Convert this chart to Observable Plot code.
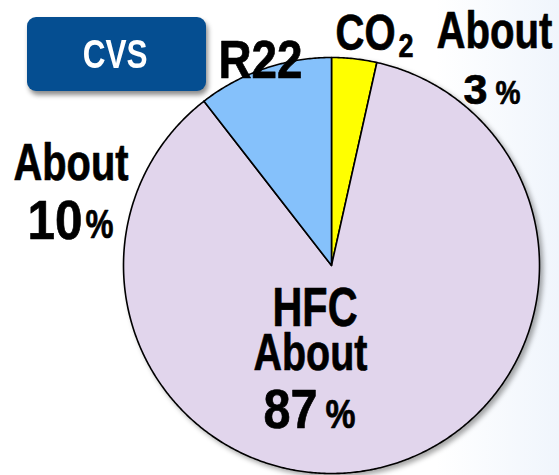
<!DOCTYPE html>
<html>
<head>
<meta charset="utf-8">
<script src="https://cdn.jsdelivr.net/npm/d3@7"></script>
<script src="https://cdn.jsdelivr.net/npm/@observablehq/plot@0.6"></script>
<style>
  html, body { margin: 0; padding: 0; background: #fff; }
  #wrap {
    position: relative; width: 559px; height: 475px; overflow: hidden;
    background: linear-gradient(to right, #ffffff 0%, #ffffff 78%, #f0f5fc 100%);
  }
  #badge {
    position: absolute; left: 27px; top: 17px; width: 179px; height: 74px;
    background: #054e91; border-radius: 9px;
    box-shadow: 2px 4px 5px rgba(0,0,0,0.45);
    color: #fff; font-family: "Liberation Sans", Arial, sans-serif;
    font-weight: bold; font-size: 41px; display: flex; align-items: center; justify-content: center;
    z-index: 2;
  }
  #badge span { display: inline-block; transform: scaleX(0.77); margin-left: -2px; }
  #chart { position: absolute; left: 0; top: 0; }
</style>
</head>
<body>
<div id="wrap">
  <div id="chart"></div>
  <div id="badge"><span>CVS</span></div>
</div>
<script>
// Data (clockwise from 12 o'clock)
const categories = ["CO2", "HFC", "R22"];
const shares = [3.5, 86.0, 10.5];
const colors = ["#ffff00", "#e1d5ec", "#85c1fb"];
const labelPercents = ["3", "87", "10"];

// geometry helpers (pixel -> data units where pie radius = 1)
const CX = 331, CY = 265, R = 208;
const ux = px => (px - CX) / R;
const uy = py => (CY - py) / R;

const arcs = d3.pie().sort(null).value(d => d.v)(categories.map((c, i) => ({c, v: shares[i]})));
const pts = [];
arcs.forEach(a => {
  const c = a.data.c;
  pts.push({c, x: 0, y: 0});
  const n = Math.max(2, Math.ceil((a.endAngle - a.startAngle) / (Math.PI / 360)));
  for (let k = 0; k <= n; k++) {
    const t = a.startAngle + (a.endAngle - a.startAngle) * k / n;
    pts.push({c, x: Math.sin(t), y: Math.cos(t)});
  }
  pts.push({c, x: 0, y: 0});
});

const FONT = "Liberation Sans, Arial, sans-serif";
// text, left x, cap-centre y, font size, target width (px)
const labels = [
  {t: "CO", x: 335, y: 31, s: 50, w: 60},
  {t: "2", x: 398, y: 44.5, s: 34, w: 15},
  {t: "About", x: 436, y: 29, s: 52, w: 116},
  {t: labelPercents[0], x: 463, y: 87.5, s: 43, w: 24},
  {t: "%", x: 495, y: 91, s: 33, w: 25},
  {t: "R22", x: 218, y: 57.5, s: 54, w: 84},
  {t: "About", x: 13, y: 161, s: 52, w: 115},
  {t: labelPercents[2], x: 27, y: 218, s: 56, w: 55},
  {t: "%", x: 85, y: 223, s: 41, w: 28},
  {t: "HFC", x: 272, y: 305, s: 55, w: 85},
  {t: "About", x: 253, y: 351, s: 52, w: 114},
  {t: labelPercents[1], x: 263, y: 407, s: 56, w: 54},
  {t: "%", x: 325, y: 412.5, s: 40, w: 30}
].map(d => ({...d, ux: ux(d.x), uy: uy(d.y + 0.045 * d.s)}));

const textMarks = labels.map((d, i) =>
  Plot.text([d], {
    x: "ux", y: "uy", text: "t", textAnchor: "start",
    fontSize: d.s, fontWeight: "bold", fontFamily: FONT, fill: "#000",
    stroke: "#000", strokeWidth: 0.7,
    className: "lbl" + i
  })
);

const plot = Plot.plot({
  width: 559, height: 475,
  marginLeft: CX - R, marginRight: 559 - (CX + R),
  marginTop: CY - R, marginBottom: 475 - (CY + R),
  x: {domain: [-1, 1], axis: null},
  y: {domain: [-1, 1], axis: null},
  color: {domain: categories, range: colors},
  style: {background: "transparent", overflow: "visible"},
  marks: [
    Plot.line(pts, {x: "x", y: "y", z: "c", fill: "c", stroke: "#000", strokeWidth: 1.6, strokeLinejoin: "round", className: "pie"}),
    ...textMarks
  ]
});
document.getElementById("chart").appendChild(plot);
const g = plot.querySelector("g.pie");
if (g) g.style.filter = "drop-shadow(3px 3px 2.5px rgba(0,0,0,0.35))";
labels.forEach((d, i) => {
  const t = plot.querySelector("g.lbl" + i + " text");
  if (t) {
    t.setAttribute("textLength", d.w);
    t.setAttribute("lengthAdjust", "spacingAndGlyphs");
  }
});
</script>
</body>
</html>
